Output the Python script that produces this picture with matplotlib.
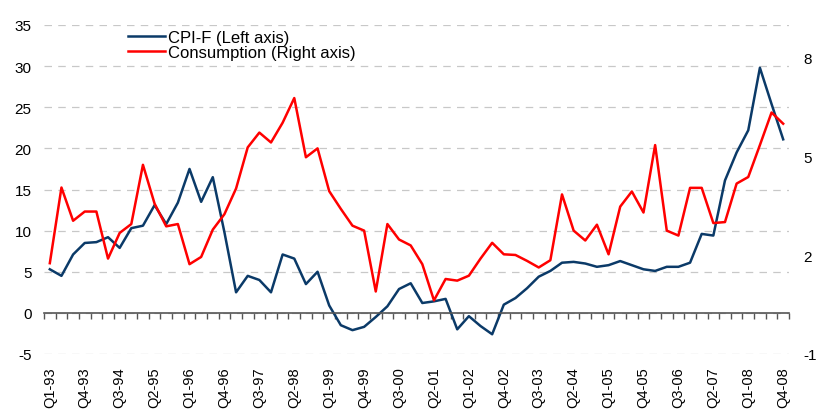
import numpy as np
import matplotlib.pyplot as plt

plt.rcParams['font.family'] = ['Liberation Sans', 'DejaVu Sans']
plt.rcParams['axes.unicode_minus'] = False

# ----------------------------
# 1. Data (quarterly, Q1-93 .. Q4-08)
# ----------------------------

years = list(range(1993, 2009))
quarters = ["Q%d-%02d" % (q, y % 100) for y in years for q in range(1, 5)]

# CPI-F, left axis
cpi_f = [5.3, 4.5, 7.1, 8.5, 8.6, 9.2, 7.9, 10.3, 10.6, 13.1, 10.8, 13.4,
         17.5, 13.5, 16.5, 9.8, 2.5, 4.5, 4.0, 2.5, 7.1, 6.6, 3.5, 5.0,
         0.9, -1.5, -2.1, -1.7, -0.5, 0.8, 2.9, 3.6, 1.2, 1.4, 1.7, -2.0,
         -0.4, -1.6, -2.6, 1.0, 1.8, 3.0, 4.4, 5.1, 6.1, 6.2, 6.0, 5.6,
         5.8, 6.3, 5.8, 5.3, 5.1, 5.6, 5.6, 6.1, 9.6, 9.4, 16.1, 19.5,
         22.2, 29.8, 25.4, 21.1]

# Consumption, right axis
consumption = [1.76, 4.06, 3.05, 3.33, 3.33, 1.90, 2.68, 2.95, 4.75, 3.57,
               2.88, 2.95, 1.73, 1.95, 2.78, 3.25, 4.03, 5.28, 5.73, 5.43,
               6.03, 6.78, 4.98, 5.25, 3.95, 3.41, 2.90, 2.75, 0.90, 2.95,
               2.48, 2.30, 1.73, 0.63, 1.28, 1.23, 1.38, 1.90, 2.38, 2.03,
               2.01, 1.83, 1.63, 1.85, 3.85, 2.75, 2.45, 2.93, 2.03, 3.48,
               3.94, 3.30, 5.35, 2.75, 2.60, 4.05, 4.05, 2.98, 3.01, 4.18,
               4.38, 5.35, 6.34, 6.00]

left_ticks = [-5, 0, 5, 10, 15, 20, 25, 30, 35]
right_ticks = [-1, 2, 5, 8]

# ----------------------------
# 2. Plot
# ----------------------------

x = np.arange(len(quarters)) + 0.5

fig = plt.figure(figsize=(8.19, 4.10), dpi=100)
ax = fig.add_axes([44 / 819, 1 - 355 / 410, 745 / 819, 329 / 410])
ax2 = ax.twinx()

line1, = ax.plot(x, cpi_f, color="#0b3a68", lw=1.8, label="CPI-F (Left axis)")
line2, = ax2.plot(x, consumption, color="#ff0000", lw=1.8, label="Consumption (Right axis)")

ax.set_xlim(0, len(quarters))
ax.set_ylim(-5, 35)
ax2.set_ylim(-1, 9)

# dashed grid on left axis
ax.set_yticks(left_ticks)
ax.yaxis.grid(True, color="#c8c8c8", linestyle=(0, (6, 5)), linewidth=0.9)
ax.set_axisbelow(True)
ax.tick_params(axis="y", length=0, pad=9, labelsize=11)

ax2.set_yticks(right_ticks)
ax2.tick_params(axis="y", length=0, pad=10, labelsize=11)

for s in ["left", "right", "top"]:
    ax.spines[s].set_visible(False)
for s in ax2.spines:
    ax2.spines[s].set_visible(False)

# category axis line sits at zero, with a tick at every quarter boundary
ax.spines["bottom"].set_position(("data", 0))
ax.spines["bottom"].set_color("#555555")
ax.spines["bottom"].set_linewidth(1.2)
ax.set_xticks(np.arange(len(quarters) + 1))
ax.tick_params(axis="x", direction="out", length=4.5, width=1, color="#555555",
               labelbottom=False)

# labels every third quarter, under the plot
sec = ax.secondary_xaxis(0)
sec.set_xticks(x[::3], quarters[::3], rotation=90, fontsize=10.5)
sec.tick_params(length=0, pad=9)
sec.spines["bottom"].set_visible(False)

leg = ax.legend(handles=[line1, line2], loc="upper left", frameon=False,
                bbox_to_anchor=(128 / 819, 1 - 31 / 410), bbox_transform=fig.transFigure,
                borderpad=0, borderaxespad=0, labelspacing=0.0, handlelength=2.2,
                handletextpad=0.2, fontsize=12)

plt.savefig("out.png", dpi=100)
